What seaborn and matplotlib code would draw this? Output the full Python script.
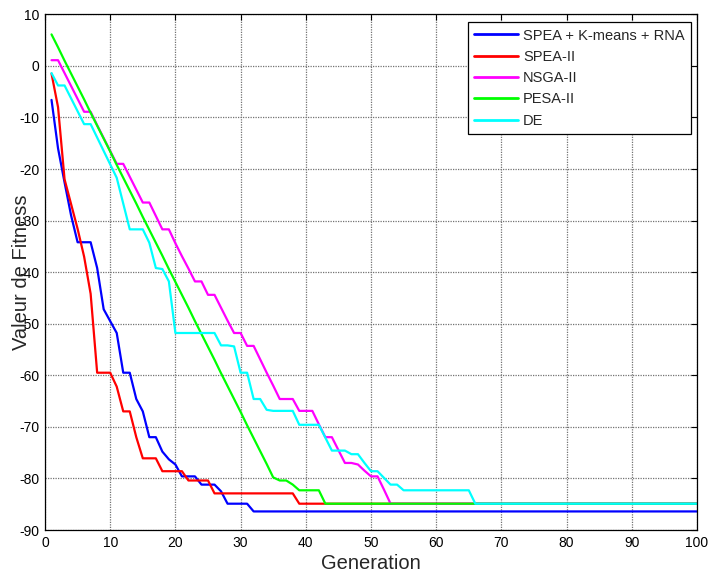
import matplotlib
matplotlib.use("Agg")
import matplotlib.pyplot as plt
import seaborn as sns
import pandas as pd

# ---- data ----
algorithms = ["SPEA + K-means + RNA", "SPEA-II", "NSGA-II", "PESA-II", "DE"]
colors = ["#0000FF", "#FF0000", "#FF00FF", "#00FF00", "#00FFFF"]
last_generation = 100

spea_kmeans_rna = [-6.6, -16.0, -22.6, -29.0, -34.2, -34.2, -34.2, -39.2, -47.2, -49.5,
                   -51.8, -59.5, -59.5, -64.6, -67.0, -72.0, -72.0, -74.8, -76.3, -77.3,
                   -79.6, -79.6, -79.6, -81.2, -81.2, -81.2, -82.5, -84.9, -84.9, -84.9,
                   -84.9, -86.4]
spea2 = [-1.5, -8.0, -22.0, -26.8, -31.6, -37.0, -44.2, -59.5, -59.5, -59.5,
         -62.2, -67.0, -67.0, -72.0, -76.1, -76.1, -76.1, -78.6, -78.6, -78.6,
         -78.6, -80.4, -80.4, -80.4, -80.4, -82.9, -82.9, -82.9, -82.9, -82.9,
         -82.9, -82.9, -82.9, -82.9, -82.9, -82.9, -82.9, -82.9, -84.9]
nsga2 = [1.1, 1.1, -1.4, -3.9, -6.4, -8.9, -8.9, -11.5, -14.0, -16.5,
         -19.0, -19.0, -21.5, -24.0, -26.5, -26.5, -29.1, -31.7, -31.7, -34.4,
         -36.9, -39.3, -41.8, -41.8, -44.4, -44.4, -46.9, -49.4, -51.8, -51.8,
         -54.3, -54.3, -56.9, -59.5, -62.0, -64.6, -64.6, -64.6, -66.9, -66.9,
         -66.9, -69.5, -72.0, -72.0, -74.5, -77.0, -77.0, -77.3, -78.5, -79.6,
         -79.6, -82.2, -84.9]
pesa2 = [6.1, 3.6, 1.0, -1.5, -4.0, -6.5, -9.1, -11.6, -14.1, -16.6,
         -19.2, -21.7, -24.2, -26.7, -29.3, -31.8, -34.3, -36.8, -39.4, -41.9,
         -44.4, -46.9, -49.5, -52.0, -54.5, -57.0, -59.6, -62.1, -64.6, -67.1,
         -69.7, -72.2, -74.7, -77.2, -79.8, -80.4, -80.4, -81.2, -82.3, -82.3,
         -82.3, -82.3, -84.9]
de = [-1.4, -3.8, -3.8, -6.3, -8.8, -11.3, -11.3, -13.9, -16.5, -19.1,
      -21.7, -26.7, -31.7, -31.7, -31.7, -34.3, -39.2, -39.4, -41.8, -51.8,
      -51.8, -51.8, -51.8, -51.8, -51.8, -51.8, -54.2, -54.2, -54.4, -59.5,
      -59.5, -64.6, -64.6, -66.7, -66.9, -66.9, -66.9, -66.9, -69.6, -69.6,
      -69.6, -69.6, -72.1, -74.6, -74.6, -74.6, -75.3, -75.3, -77.0, -78.6,
      -78.6, -79.9, -81.2, -81.2, -82.3, -82.3, -82.3, -82.3, -82.3, -82.3,
      -82.3, -82.3, -82.3, -82.3, -82.3, -84.9]

x_ticks = list(range(0, 101, 10))
y_ticks = list(range(-90, 11, 10))

# ---- long-form table ----
rows = []
for name, vals in zip(algorithms, [spea_kmeans_rna, spea2, nsga2, pesa2, de]):
    gens = list(range(1, len(vals) + 1)) + [last_generation]
    ys = vals + [vals[-1]]
    for g, v in zip(gens, ys):
        rows.append({"Generation": g, "Fitness": v, "Algorithm": name})
df = pd.DataFrame(rows)

sns.set_style("white")
plt.rcParams["font.family"] = ["Liberation Sans", "DejaVu Sans"]
plt.rcParams["axes.unicode_minus"] = False

fig = plt.figure(figsize=(7.09, 5.79), dpi=100)
W, H = 709, 579
ax = fig.add_axes([45 / W, 1 - 530 / H, 652 / W, (530 - 14.3) / H])

sns.lineplot(data=df, x="Generation", y="Fitness", hue="Algorithm",
             hue_order=algorithms, palette=dict(zip(algorithms, colors)),
             estimator=None, sort=False, linewidth=1.6, ax=ax)

ax.set_xlim(0, 100)
ax.set_ylim(-90, 10)
ax.set_xticks(x_ticks)
ax.set_yticks(y_ticks)
ax.grid(True, linestyle=(0, (1, 1)), color="0.45", linewidth=0.9)
ax.tick_params(direction="in", top=True, right=True, length=4, width=0.8,
               labelsize=10, colors="black", pad=4)
for s in ax.spines.values():
    s.set_visible(True)
    s.set_color("black")
    s.set_linewidth(0.9)

ax.set_xlabel("Generation", fontsize=14.5, labelpad=3)
ax.set_ylabel("Valeur de Fitness", fontsize=14.5)
ax.yaxis.set_label_coords(-0.022, 0.5)

handles, labels = ax.get_legend_handles_labels()
leg = ax.legend(handles, labels, loc="upper right",
                bbox_to_anchor=(0.991, 0.985), borderaxespad=0,
                fontsize=10.5, handlelength=3.0, handletextpad=0.35,
                labelspacing=0.5, borderpad=0.45, fancybox=False,
                framealpha=1, edgecolor="black")
leg.get_frame().set_linewidth(0.9)
for line in leg.get_lines():
    line.set_linewidth(2)

fig.savefig("out.png", dpi=100)
